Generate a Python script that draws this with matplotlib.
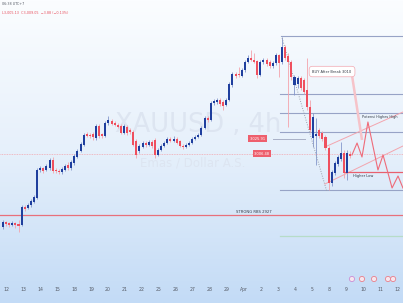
import numpy as np
import matplotlib
matplotlib.use("Agg")
import matplotlib.pyplot as plt
from matplotlib.colors import LinearSegmentedColormap

# ---------------- data ----------------
day_labels = ["12", "13", "14", "15", "18", "19", "20", "21", "22", "25", "26", "27",
              "28", "29", "Apr", "2", "3", "4", "5", "8", "9", "10", "11", "12"]

t0 = -0.176          # time of first candle (in trading-day units)
dt = 0.1824          # candle spacing (4h)

opens = [2911.4, 2917.9, 2916.6, 2914.0, 2916.6, 2915.3, 2914.0, 2937.4, 2936.1, 2940.0,
         2943.9, 2949.1, 2985.5, 2988.1, 2985.5, 2988.1, 2998.5, 2985.5, 2984.2, 2982.9,
         2985.5, 2992.0, 2988.1, 2994.6, 3002.4, 3010.2, 3018.0, 3032.3, 3031.0, 3032.3,
         3027.1, 3042.7, 3032.3, 3029.7, 3046.6, 3049.2, 3046.6, 3044.0, 3042.7, 3033.6,
         3041.4, 3037.5, 3034.9, 3023.2, 3010.2, 3015.4, 3020.6, 3018.0, 3021.9, 3024.5,
         3005.0, 3011.5, 3016.7, 3020.6, 3025.8, 3023.2, 3025.8, 3023.2, 3016.7, 3015.4,
         3018.0, 3020.6, 3025.8, 3028.4, 3031.0, 3040.1, 3053.1, 3050.5, 3072.6, 3073.9,
         3076.5, 3073.9, 3070.0, 3076.5, 3096.0, 3110.3, 3110.3, 3107.7, 3115.5, 3125.9,
         3131.1, 3128.5, 3127.2, 3109.0, 3125.9, 3128.5, 3125.9, 3120.7, 3124.6, 3135.0,
         3125.9, 3145.4, 3133.7, 3125.9, 3096.0, 3097.3, 3105.1, 3102.5, 3089.5, 3067.4,
         3027.1, 3029.7, 3037.5, 3033.6, 3028.4, 3014.1, 2968.6, 2981.6, 2993.3, 2999.8,
         3007.6, 2981.6, 3006.3]
highs = [2920.5, 2919.2, 2917.9, 2919.2, 2917.9, 2920.5, 2940.0, 2940.0, 2942.6, 2947.8,
         2953.0, 2988.1, 2990.7, 2989.4, 2993.3, 3001.1, 3002.4, 2988.1, 2986.8, 2989.4,
         2993.3, 2995.9, 2998.5, 3006.3, 3012.8, 3021.9, 3033.6, 3034.9, 3033.6, 3034.9,
         3045.3, 3045.3, 3033.6, 3049.2, 3055.7, 3051.8, 3049.2, 3046.6, 3045.3, 3045.3,
         3044.0, 3040.1, 3037.5, 3025.8, 3019.3, 3023.2, 3023.2, 3024.5, 3024.5, 3027.1,
         3014.1, 3019.3, 3023.2, 3028.4, 3028.4, 3029.7, 3028.4, 3024.5, 3019.3, 3020.6,
         3023.2, 3028.4, 3031.0, 3033.6, 3042.7, 3055.7, 3055.7, 3075.2, 3077.8, 3079.1,
         3079.1, 3076.5, 3079.1, 3099.9, 3112.9, 3112.9, 3119.4, 3118.1, 3128.5, 3135.0,
         3141.5, 3137.6, 3128.5, 3128.5, 3131.1, 3131.1, 3128.5, 3127.2, 3137.6, 3136.3,
         3158.4, 3148.0, 3137.6, 3128.5, 3109.0, 3107.7, 3107.7, 3105.1, 3131.1, 3076.5,
         3059.6, 3053.1, 3040.1, 3036.2, 3031.0, 3016.7, 2985.5, 2997.2, 3005.0, 3021.9,
         3011.5, 3011.5, 3010.2]
lows = [2908.8, 2912.7, 2911.4, 2912.7, 2910.1, 2904.9, 2912.7, 2932.2, 2934.8, 2937.4,
        2942.6, 2947.8, 2982.9, 2981.6, 2984.2, 2985.5, 2981.6, 2981.6, 2980.3, 2980.3,
        2984.2, 2985.5, 2985.5, 2992.0, 3001.1, 3008.9, 3016.7, 3028.4, 3027.1, 3024.5,
        3024.5, 3027.1, 3027.1, 3028.4, 3044.0, 3044.0, 3042.7, 3040.1, 3032.3, 3032.3,
        3031.0, 3032.3, 3016.7, 3001.1, 3007.6, 3014.1, 3015.4, 3016.7, 3014.1, 3001.1,
        3003.7, 3010.2, 3015.4, 3019.3, 3021.9, 3021.9, 3019.3, 3015.4, 3012.8, 3014.1,
        3016.7, 3019.3, 3024.5, 3027.1, 3029.7, 3038.8, 3047.9, 3049.2, 3070.0, 3071.3,
        3068.7, 3063.5, 3068.7, 3075.2, 3093.4, 3105.1, 3106.4, 3106.4, 3112.9, 3124.6,
        3127.2, 3124.6, 3105.1, 3107.7, 3123.3, 3120.7, 3118.1, 3118.1, 3122.0, 3106.4,
        3123.3, 3128.5, 3041.4, 3102.5, 3083.0, 3092.1, 3089.5, 3084.3, 3063.5, 3034.9,
        3015.4, 2992.0, 3027.1, 3023.2, 3011.5, 2959.5, 2964.7, 2979.0, 2990.7, 2997.2,
        2975.1, 2972.5, 3001.1]
closes = [2917.9, 2915.3, 2914.0, 2916.6, 2914.0, 2912.7, 2937.4, 2934.8, 2940.0, 2945.2,
          2950.4, 2985.5, 2988.1, 2984.2, 2990.7, 2998.5, 2984.2, 2984.2, 2982.9, 2986.8,
          2990.7, 2988.1, 2995.9, 3003.7, 3010.2, 3019.3, 3031.0, 3029.7, 3029.7, 3028.4,
          3042.7, 3029.7, 3029.7, 3046.6, 3050.5, 3045.3, 3044.0, 3041.4, 3033.6, 3042.7,
          3033.6, 3034.9, 3018.0, 3005.0, 3016.7, 3020.6, 3018.0, 3021.9, 3016.7, 3005.0,
          3011.5, 3016.7, 3020.6, 3025.8, 3023.2, 3025.8, 3020.6, 3016.7, 3015.4, 3018.0,
          3020.6, 3025.8, 3028.4, 3031.0, 3040.1, 3053.1, 3050.5, 3072.6, 3075.2, 3076.5,
          3071.3, 3068.7, 3076.5, 3097.3, 3110.3, 3107.7, 3109.0, 3115.5, 3125.9, 3131.1,
          3128.5, 3125.9, 3109.0, 3125.9, 3128.5, 3123.3, 3120.7, 3124.6, 3135.0, 3124.6,
          3145.4, 3131.1, 3125.9, 3106.4, 3106.4, 3105.1, 3092.1, 3086.9, 3067.4, 3037.5,
          3054.4, 3032.3, 3029.7, 3025.8, 3014.1, 2968.6, 2982.9, 2994.6, 3002.4, 3007.6,
          2981.6, 3007.6, 3003.7]

# horizontal levels on the right part (start day, price)
level_start = [16.18, 16.12, 16.12, 16.12, 16.12]
level_price = [3159.7, 3084.3, 3059.6, 3034.9, 2959.5]
green_level = 2899.7
strong_rbs = 2927.0
label_prices = [3025.91, 3006.48]
higher_low = 2982.9

# diagonal dotted trend (day, price)
trend_days = [16.24, 18.88]
trend_prices = [3157.1, 2956.9]

# channel (day, price)
chan_days = [18.76, 23.35]
chan_upper = [3015.4, 3060.9]
chan_lower = [2967.3, 3016.7]

# projected zigzag path
proj_days = [20.35, 20.65, 20.94, 21.29, 21.88, 22.18, 22.71, 23.06, 23.35]
proj_prices = [3005.0, 3020.6, 3002.4, 3047.9, 2985.5, 3005.0, 2962.1, 2977.7, 2962.1]

# arrow from note
note_days = [20.35, 20.94]
note_prices = [3109.0, 3024.5]

event_days = [20.35, 20.94, 21.65, 22.47, 22.77]

# ---------------- figure ----------------
W, H = 403, 303
fig = plt.figure(figsize=(W / 100, H / 100), dpi=100)

bg = fig.add_axes([0, 0, 1, 1], zorder=0)
cmap = LinearSegmentedColormap.from_list("bg", ["#fbfdff", "#e6f0fb", "#c3dbf6"])
grad = np.linspace(0, 1, 256).reshape(-1, 1)
bg.imshow(grad, aspect="auto", cmap=cmap, extent=[0, 1, 0, 1], origin="upper")
bg.set_axis_off()

ax = fig.add_axes([0, 22 / H, 1, 281 / H], zorder=1)
ax.patch.set_alpha(0)
ymax = 3206.5
ax.set_ylim(ymax - 1.3 * 281, ymax)
ax.set_xlim(-6 / 17, 397 / 17)
for s in ax.spines.values():
    s.set_visible(False)
ax.set_yticks([])
ax.set_xticks(np.arange(len(day_labels)))
ax.set_xticklabels(day_labels, fontsize=3.3, color="#555b66")
ax.tick_params(axis="x", length=0, pad=4.5)

# watermark
ax.text(11.29, 3043.5, "XAUUSD , 4h", fontsize=18.5, color="#dde5f1", ha="center",
        va="center", zorder=1)
ax.text(11.0, 2994.6, "Emas / Dollar A.S.", fontsize=8.5, color="#dde5f1", ha="center",
        va="center", zorder=1)

# full-width lines
ax.axhline(strong_rbs, color="#e8707c", lw=0.9, zorder=2)
ax.axhline(label_prices[1], color="#f2a9b1", lw=0.6, ls=(0, (1, 1)), zorder=2)
ax.text(14.59, strong_rbs + 4.5, "STRONG RBS 2927", fontsize=2.7, color="#333a45",
        ha="center", va="center", zorder=6)

# right-side levels
xr = 397 / 17
for s0, p in zip(level_start, level_price):
    ax.plot([s0, xr], [p, p], color="#97a3c6", lw=0.8, zorder=2)
ax.plot([16.12, xr], [green_level, green_level], color="#b6dcc8", lw=0.9, zorder=2)
ax.plot([15.7, 17.6], [label_prices[0], label_prices[0]], color="#a9b1c7", lw=0.7, zorder=2)
ax.plot([19.94, xr], [higher_low, higher_low], color="#e8606e", lw=0.9, zorder=4)

# candles
t = t0 + np.arange(len(opens)) * dt
o = np.array(opens); h = np.array(highs); l = np.array(lows); c = np.array(closes)
up = c >= o
up_col, dn_col = "#1f3f9e", "#ef4f5e"
up_wick, dn_wick = "#8497cc", "#f4a3ab"
ax.vlines(t[up], l[up], h[up], color=up_wick, lw=0.6, zorder=3)
ax.vlines(t[~up], l[~up], h[~up], color=dn_wick, lw=0.6, zorder=3)
body_lo = np.minimum(o, c)
body_h = np.maximum(np.abs(c - o), 0.8)
ax.bar(t[up], body_h[up], bottom=body_lo[up], width=0.12, color=up_col, lw=0, zorder=4)
ax.bar(t[~up], body_h[~up], bottom=body_lo[~up], width=0.12, color=dn_col, lw=0, zorder=4)

# dotted trend
ax.plot(trend_days, trend_prices, color="#9aa1ae", lw=0.7, ls=(0, (1, 1.5)), zorder=3)

# channel
ax.plot(chan_days, chan_upper, color="#f3a5ae", lw=0.7, zorder=3)
ax.plot(chan_days, chan_lower, color="#f3a5ae", lw=0.7, zorder=3)

# projection
ax.plot(proj_days, proj_prices, color="#ef6b79", lw=0.8, zorder=5)
ax.plot(note_days, note_prices, color="#f6c3c9", lw=1.8, zorder=5, solid_capstyle="butt")

# annotations
ax.text(19.18, 3113.5, "BUY After Break 3010", fontsize=2.6, color="#333a45",
        ha="center", va="center", zorder=6,
        bbox=dict(boxstyle="round,pad=0.9", fc="white", ec="#f2a7b0", lw=0.5))
ax.text(22.0, 3054.4, "Potensi Highes High", fontsize=2.5, color="#333a45",
        ha="center", va="center", zorder=6)
ax.text(20.4, 2978.0, "Higher Low", fontsize=2.6, color="#333a45",
        ha="left", va="center", zorder=6)
ax.text(14.82, label_prices[0], "3,025.91", fontsize=2.6, color="white",
        ha="center", va="center", zorder=6,
        bbox=dict(boxstyle="square,pad=0.4", fc="#ee5f6d", ec="none"))
ax.text(15.06, label_prices[1], "3,006.48", fontsize=2.6, color="white",
        ha="center", va="center", zorder=6,
        bbox=dict(boxstyle="square,pad=0.4", fc="#ee5f6d", ec="none"))

# event icons at bottom
ev_y = ymax - 1.3 * 279
cols = ["#c98fd6", "#e8808c", "#e8808c", "#e8808c", "#e8808c"]
ax.scatter(event_days, [ev_y] * len(event_days), s=14, c="#f7e6ee", edgecolors=cols,
           linewidths=0.6, zorder=6, clip_on=False)

# header
fig.text(2 / W, 1 - 4 / H, "06:38 UTC+7", fontsize=2.4, color="#555b66", va="center")
fig.text(2 / W, 1 - 13 / H, "L3,005.13  C3,009.05  \u22123.88 (\u22120.13%)", fontsize=2.4,
         color="#e8505f", va="center")

fig.savefig("out.png", dpi=100)
